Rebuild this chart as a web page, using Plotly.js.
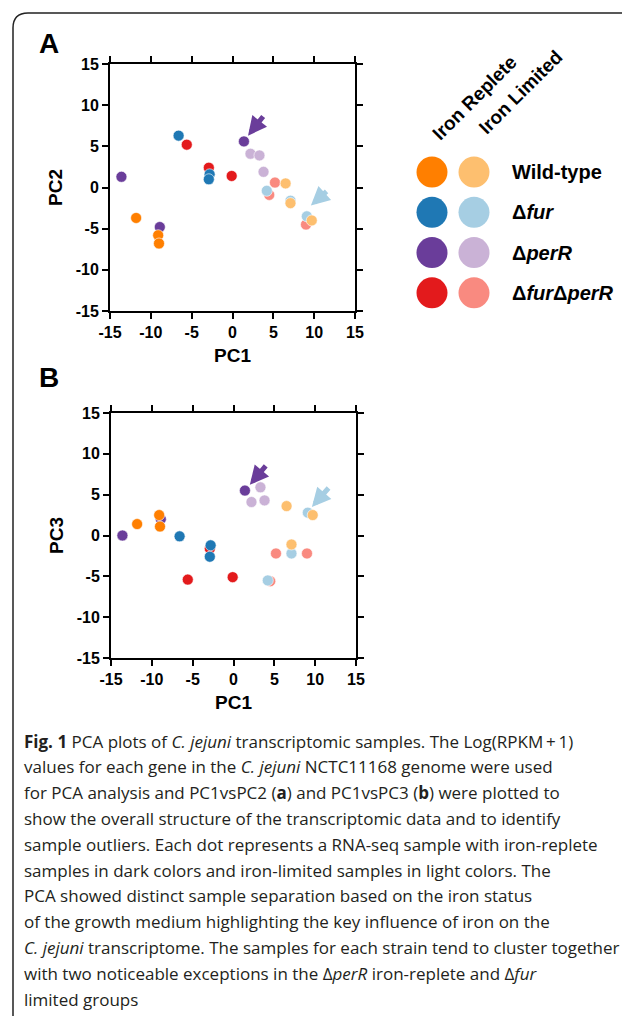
<!DOCTYPE html>
<html><head><meta charset="utf-8">
<script src="https://cdn.plot.ly/plotly-3.0.1.min.js"></script>
<style>html,body{margin:0;padding:0;background:#fff;}#plot{width:622px;height:1022px;}</style>
</head><body><div id="plot"></div>
<script>
// ---- data ----
const strains = ['Wild-type', '\u0394<i>fur</i>', '\u0394<i>perR</i>', '\u0394<i>fur</i>\u0394<i>perR</i>'];
const darkColors  = ['#FF7F00', '#1F78B4', '#6A3D9A', '#E31A1C'];
const lightColors = ['#FDBF6F', '#A6CEE3', '#CAB2D6', '#F98A80'];
// per strain: replete PC1 / PC2 / PC3, limited PC1 / PC2 / PC3
const repPC1 = [[-11.8, -9.1, -9.0], [-6.6, -2.8, -2.9], [-13.6, -8.9, 1.4], [-5.6, -2.9, -0.1]];
const repPC2 = [[-3.7, -5.8, -6.8], [6.3, 1.6, 1.0], [1.3, -4.8, 5.6], [5.2, 2.4, 1.4]];
const repPC3 = [[1.4, 2.5, 1.1], [-0.1, -1.2, -2.6], [0.0, 2.0, 5.5], [-5.4, -1.6, -5.1]];
const limPC1 = [[6.5, 7.1, 9.7], [4.2, 7.1, 9.1], [2.2, 3.3, 3.8], [4.5, 5.2, 9.0]];
const limPC2 = [[0.5, -1.9, -4.0], [-0.4, -1.6, -3.5], [4.1, 3.9, 1.9], [-0.9, 0.6, -4.5]];
const limPC3 = [[3.6, -1.1, 2.5], [-5.5, -2.2, 2.8], [4.1, 5.9, 4.3], [-5.6, -2.2, -2.2]];
const tickVals = [-15, -10, -5, 0, 5, 10, 15];
const legendCols = ['Iron Replete', 'Iron Limited'];
// arrows: [tipX, tipY, tailX, tailY, colour index (strain), light?]
const arrowsA = [[1.9, 6.3, 3.9, 8.8, 2, false], [9.6, -2.2, 11.7, -0.3, 1, true]];
const arrowsB = [[2.0, 6.2, 4.1, 8.7, 2, false], [9.6, 3.5, 11.8, 6.0, 1, true]];
const captionLines = [
 '<b>Fig. 1</b> PCA plots of <i>C. jejuni</i> transcriptomic samples. The Log(RPKM\u2009+\u20091)',
 'values for each gene in the <i>C. jejuni</i> NCTC11168 genome were used',
 'for PCA analysis and PC1vsPC2 (<b>a</b>) and PC1vsPC3 (<b>b</b>) were plotted to',
 'show the overall structure of the transcriptomic data and to identify',
 'sample outliers. Each dot represents a RNA-seq sample with iron-replete',
 'samples in dark colors and iron-limited samples in light colors. The',
 'PCA showed distinct sample separation based on the iron status',
 'of the growth medium highlighting the key influence of iron on the',
 '<i>C. jejuni</i> transcriptome. The samples for each strain tend to cluster together',
 'with two noticeable exceptions in the \u0394<i>perR</i> iron-replete and \u0394<i>fur</i>',
 'limited groups'
];

// ---- layout helpers ----
const W = 622, H = 1022;
const px = v => v / W;
const py = v => 1 - v / H;
const AF = 'Liberation Sans, Arial, sans-serif';

const traces = [];
const drawOrder = [3, 2, 1, 0];
function addPlot(xa, ya, yLim, yRep) {
  drawOrder.forEach(i => {
    traces.push({type: 'scatter', mode: 'markers', xaxis: xa, yaxis: ya, x: limPC1[i], y: yLim[i],
      marker: {color: lightColors[i], size: 11, line: {color: '#fff', width: 0.6}}, showlegend: false, hoverinfo: 'skip'});
  });
  drawOrder.forEach(i => {
    traces.push({type: 'scatter', mode: 'markers', xaxis: xa, yaxis: ya, x: repPC1[i], y: yRep[i],
      marker: {color: darkColors[i], size: 11, line: {color: '#fff', width: 0.6}}, showlegend: false, hoverinfo: 'skip'});
  });
}
addPlot('x', 'y', limPC2, repPC2);
addPlot('x2', 'y2', limPC3, repPC3);

// legend swatches on their own hidden axis
const rows = strains.map((s, i) => i);
traces.push({type: 'scatter', mode: 'markers', xaxis: 'x3', yaxis: 'y3', x: rows.map(() => 0), y: rows,
  marker: {color: darkColors, size: 31}, showlegend: false, hoverinfo: 'skip', cliponaxis: false});
traces.push({type: 'scatter', mode: 'markers', xaxis: 'x3', yaxis: 'y3', x: rows.map(() => 1), y: rows,
  marker: {color: lightColors, size: 31}, showlegend: false, hoverinfo: 'skip', cliponaxis: false});

function axis(domain, anchor, title, standoff) {
  return {domain: domain, anchor: anchor, range: [-15, 15], tickvals: tickVals, ticktext: tickVals.map(String),
    showgrid: false, zeroline: false, showline: true, linewidth: 2, linecolor: '#000', mirror: 'allticks',
    ticks: 'outside', ticklen: 6, tickwidth: 2, tickcolor: '#000',
    tickfont: {family: AF, size: 16, color: '#000', weight: 'bold'},
    title: {text: '<b>' + title + '</b>', font: {family: AF, size: 19, color: '#000'}, standoff: standoff}};
}

const layout = {
  width: W, height: H, margin: {l: 0, r: 0, t: 0, b: 0}, paper_bgcolor: '#fff', plot_bgcolor: '#fff',
  showlegend: false,
  xaxis: axis([px(110), px(355)], 'y', 'PC1', 8),
  yaxis: axis([py(311), py(64)], 'x', 'PC2', 8),
  xaxis2: axis([px(111), px(356)], 'y2', 'PC1', 8),
  yaxis2: axis([py(658), py(413)], 'x2', 'PC3', 8),
  xaxis3: {domain: [px(411), px(600)], anchor: 'y3', range: [-0.5, 4.0], visible: false},
  yaxis3: {domain: [py(313), py(152)], anchor: 'x3', range: [3.5, -0.5], visible: false},
  annotations: [],
  shapes: [{type: 'path', xref: 'paper', yref: 'paper', line: {color: '#222', width: 1.5},
    path: 'M ' + px(13) + ' ' + py(1016) + ' L ' + px(13) + ' ' + py(28) +
          ' Q ' + px(13) + ' ' + py(13) + ' ' + px(28) + ' ' + py(13) + ' L ' + px(622) + ' ' + py(13)}]
};

const ann = layout.annotations;
ann.push({xref: 'paper', yref: 'paper', x: px(49), y: py(43), xanchor: 'center', yanchor: 'middle',
  text: '<b>A</b>', showarrow: false, font: {family: AF, size: 28, color: '#000'}});
ann.push({xref: 'paper', yref: 'paper', x: px(49), y: py(378), xanchor: 'center', yanchor: 'middle',
  text: '<b>B</b>', showarrow: false, font: {family: AF, size: 28, color: '#000'}});

function addArrows(list, xr, yr) {
  list.forEach(a => {
    ann.push({xref: xr, yref: yr, axref: xr, ayref: yr, x: a[0], y: a[1], ax: a[2], ay: a[3], text: '',
      showarrow: true, arrowhead: 2, arrowsize: 0.75, arrowwidth: 5, standoff: 0,
      arrowcolor: a[5] ? lightColors[a[4]] : darkColors[a[4]]});
  });
}
addArrows(arrowsA, 'x', 'y');
addArrows(arrowsB, 'x2', 'y2');

strains.forEach((s, i) => {
  ann.push({xref: 'x3', yref: 'y3', x: 1.86, y: i, xanchor: 'left', yanchor: 'middle', showarrow: false,
    text: '<b>' + s + '</b>', font: {family: AF, size: 20, color: '#000'}});
});
const headPos = [[475, 98], [520, 92]];
legendCols.forEach((t, i) => {
  ann.push({xref: 'paper', yref: 'paper', x: px(headPos[i][0]), y: py(headPos[i][1]), textangle: -45,
    xanchor: 'center', yanchor: 'middle',
    showarrow: false, text: '<b>' + t + '</b>', font: {family: AF, size: 19, color: '#000'}});
});

captionLines.forEach((t, i) => {
  ann.push({xref: 'paper', yref: 'paper', x: px(22), y: py(741 + i * 25.8), xanchor: 'left', yanchor: 'middle',
    showarrow: false, text: t, font: {family: 'Open Sans, sans-serif', size: 17, color: '#231f20'}});
});

Plotly.newPlot('plot', traces, layout, {staticPlot: true});
</script></body></html>
